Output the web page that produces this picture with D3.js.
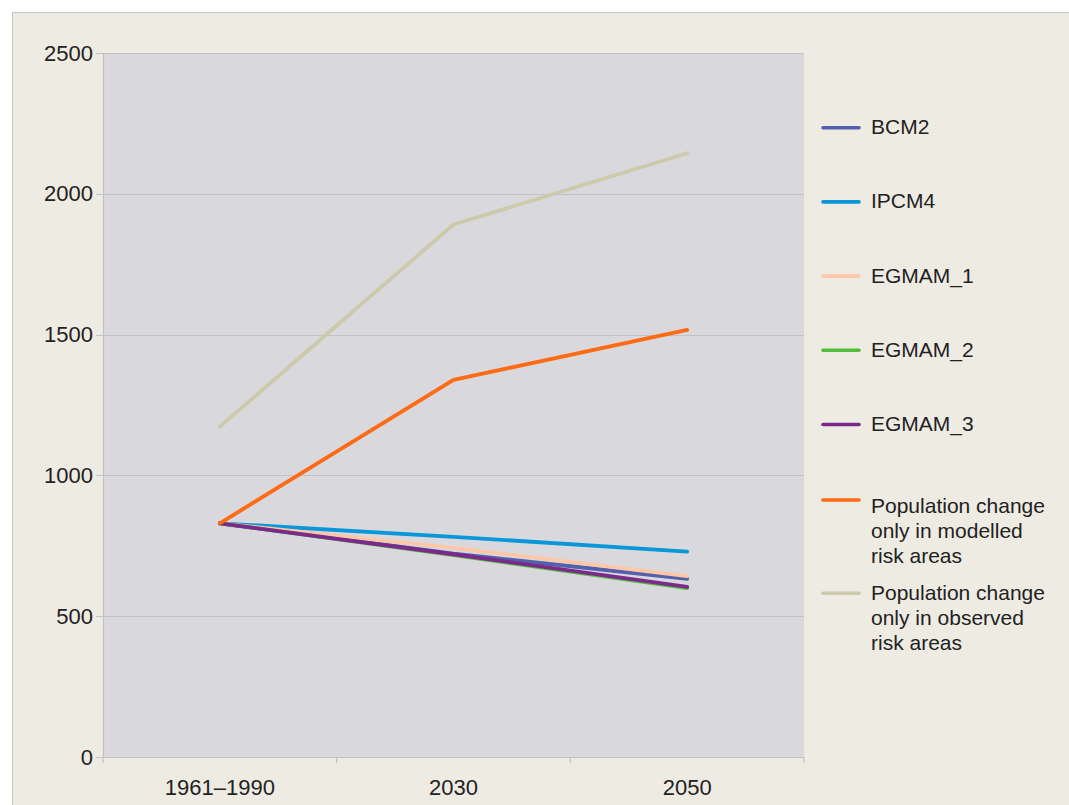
<!DOCTYPE html>
<html>
<head>
<meta charset="utf-8">
<script src="https://cdn.jsdelivr.net/npm/d3@7"></script>
<style>
  html, body { margin: 0; padding: 0; background: #ffffff; }
  svg { display: block; font-family: "Liberation Sans", Arial, sans-serif; }
</style>
</head>
<body>
<svg id="chart" width="1069" height="805"></svg>
<script>
// periods on the x axis
var periods = ["1961\u20131990", "2030", "2050"];

// series values
var bcm2     = [830, 722, 633];
var ipcm4    = [830, 782, 729];
var egmam1   = [830, 743, 642];
var egmam2   = [830, 717, 600];
var egmam3   = [830, 720, 604];
var modelled = [830, 1339, 1517];
var observed = [1173, 1891, 2144];

var seriesNames = ["BCM2", "IPCM4", "EGMAM_1", "EGMAM_2", "EGMAM_3",
  "Population change only in modelled risk areas",
  "Population change only in observed risk areas"];
var seriesColors = ["#5361ad", "#0a97d9", "#fdc7a8", "#52bd3b", "#7b2a8c", "#ff6a14", "#cdc9ab"];
var seriesValues = [bcm2, ipcm4, egmam1, egmam2, egmam3, modelled, observed];

// legend labels, wrapped the way the chart does it
var legendLines = [["BCM2"], ["IPCM4"], ["EGMAM_1"], ["EGMAM_2"], ["EGMAM_3"],
  ["Population change", "only in modelled", "risk areas"],
  ["Population change", "only in observed", "risk areas"]];

var yTicks = [0, 500, 1000, 1500, 2000, 2500];

var svg = d3.select("#chart");

// outer frame
svg.append("rect")
  .attr("x", 12.5).attr("y", 12.5)
  .attr("width", 1100).attr("height", 900)
  .attr("fill", "#eeebe3")
  .attr("stroke", "#c9c9c9");

var plotLeft = 103, plotRight = 804, plotTop = 53, plotBottom = 757;

var x = d3.scaleBand().domain(periods).range([plotLeft, plotRight]);
var y = d3.scaleLinear().domain([0, 2500]).range([plotBottom, plotTop]);

// plot area
svg.append("rect")
  .attr("x", plotLeft).attr("y", plotTop)
  .attr("width", plotRight - plotLeft).attr("height", plotBottom - plotTop)
  .attr("fill", "#d9d8dd");

// grid lines
svg.append("g").selectAll("line")
  .data(yTicks)
  .enter().append("line")
  .attr("x1", plotLeft - 7).attr("x2", plotRight)
  .attr("y1", function(d) { return Math.round(y(d)) + 0.5; })
  .attr("y2", function(d) { return Math.round(y(d)) + 0.5; })
  .attr("stroke", "#c2c1c6").attr("stroke-width", 1.2);

// y axis
var yAxis = svg.append("g")
  .attr("transform", "translate(" + plotLeft + ",0)")
  .call(d3.axisLeft(y).tickValues(yTicks).tickSize(0).tickPadding(10).tickFormat(d3.format("d")));
yAxis.select(".domain").attr("stroke", "#c2c1c6").attr("stroke-width", 1.2);
yAxis.selectAll("text")
  .attr("font-size", 22).attr("fill", "#222")
  .attr("font-family", "Liberation Sans, Arial, sans-serif");

// x axis, ticks sit between the categories
var xAxis = svg.append("g")
  .attr("transform", "translate(0," + plotBottom + ")")
  .call(d3.axisBottom(x).tickSize(0).tickPadding(22));
xAxis.select(".domain").remove();
xAxis.selectAll("text")
  .attr("font-size", 22).attr("fill", "#222")
  .attr("font-family", "Liberation Sans, Arial, sans-serif");
var bounds = periods.map(function(p) { return x(p); }).concat([x(periods[periods.length - 1]) + x.bandwidth()]);
xAxis.selectAll("line.sep")
  .data(bounds)
  .enter().append("line")
  .attr("class", "sep")
  .attr("x1", function(d) { return d; }).attr("x2", function(d) { return d; })
  .attr("y1", 0).attr("y2", 6)
  .attr("stroke", "#c2c1c6").attr("stroke-width", 1.2);

// lines
var line = d3.line()
  .x(function(d, i) { return x(periods[i]) + x.bandwidth() / 2; })
  .y(function(d) { return y(d); });

svg.append("g").selectAll("path")
  .data(seriesValues)
  .enter().append("path")
  .attr("d", line)
  .attr("fill", "none")
  .attr("stroke", function(d, i) { return seriesColors[i]; })
  .attr("stroke-width", 3.8)
  .attr("stroke-linejoin", "round")
  .attr("stroke-linecap", "round");

// legend
var legend = svg.append("g").attr("transform", "translate(823,0)");
var entries = legend.selectAll("g")
  .data(seriesNames)
  .enter().append("g")
  .attr("transform", function(d, i) {
    var ly = i < 5 ? 127.7 + i * 74.2 : 500 + (i - 5) * 93.3;
    return "translate(0," + ly + ")";
  });
entries.append("line")
  .attr("x1", 0).attr("x2", 36)
  .attr("stroke", function(d, i) { return seriesColors[i]; })
  .attr("stroke-width", 3.6)
  .attr("stroke-linecap", "round");
entries.each(function(d, i) {
  var t = d3.select(this).append("text")
    .attr("x", 48)
    .attr("font-size", 21)
    .attr("fill", "#222");
  var first = i === 5 ? 13 : 6.5;
  legendLines[i].forEach(function(s, k) {
    t.append("tspan").attr("x", 48).attr("y", first + k * 25.2).text(s);
  });
});
</script>
</body>
</html>
